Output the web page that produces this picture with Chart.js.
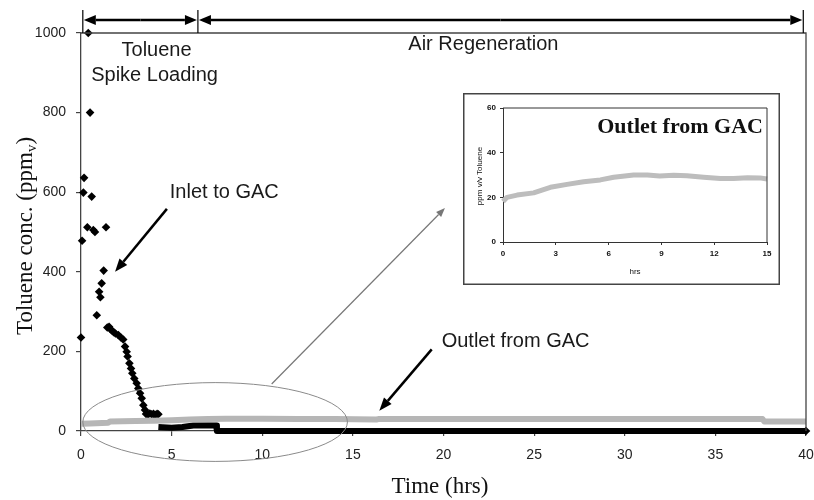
<!DOCTYPE html>
<html>
<head>
<meta charset="utf-8">
<script src="https://cdn.jsdelivr.net/npm/chart.js@4.4.1/dist/chart.umd.min.js"></script>
<style>
  html, body { margin: 0; padding: 0; background: #fff; }
  #wrap { position: relative; width: 814px; height: 500px; }
  #main { position: absolute; left: 0; top: 0; }
  #inset { position: absolute; left: 463px; top: 93px; }
</style>
</head>
<body>
<div id="wrap">
  <canvas id="main" width="814" height="500"></canvas>
  <canvas id="inset" width="317" height="192"></canvas>
</div>
<script>
// ---- Main chart data: toluene concentration (ppmv) vs time (hrs) ----
const timeTicks = [0, 5, 10, 15, 20, 25, 30, 35, 40];
const concTicks = [0, 200, 400, 600, 800, 1000];

// Inlet to GAC: individual samples during spike loading
const inletTime = [0, 0.06, 0.13, 0.17, 0.35, 0.4, 0.5, 0.59, 0.68, 0.77, 0.87, 1.0, 1.07, 1.14, 1.25, 1.38,
  1.45, 1.55, 1.62, 1.72, 1.8, 1.9, 2.06, 2.2, 2.33, 2.43, 2.52, 2.57, 2.67, 2.76, 2.83, 2.94, 3.07,
  3.16, 3.26, 3.35, 3.44, 3.53, 3.59, 3.7, 3.8, 3.9, 4.0, 4.1, 4.2, 4.27, 40];
const inletConc = [235, 478, 599, 636, 512, 1000, 800, 589, 505, 500, 291, 350, 336, 371, 403, 512,
  260, 262, 256, 252, 248, 245, 241, 235, 230, 212, 199, 187, 170, 157, 145, 132, 120,
  107, 95, 82, 65, 53, 43, 42, 44, 42, 43, 41, 43, 42, 0];

// Inlet to GAC: dense low readings after loading ends
const inletLowTime = [4.27, 5.0, 5.6, 6.2, 7.45, 7.5, 40];
const inletLowConc = [10, 8, 10, 14, 14, 0, 0];

// Outlet from GAC over the whole run
const outletTime = [0, 0.5, 1.5, 1.6, 3, 4, 5, 6, 7, 8, 10, 12, 14, 16.3, 16.4, 20, 25, 30, 35, 37.6, 37.7, 40];
const outletConc = [18, 19, 21, 24, 25, 26, 27, 29, 30, 31, 31, 30, 30, 29, 30, 30, 30, 30, 30, 30, 24, 24];

// ---- Inset data: outlet from GAC, first 15 hrs ----
const insetTimeTicks = [0, 3, 6, 9, 12, 15];
const insetConcTicks = [0, 20, 40, 60];
const insetTime = [0, 0.23, 0.8, 1.74, 2.69, 3.64, 4.58, 5.53, 6.29, 7.42, 8.2, 8.9, 9.7, 10.45, 11.4, 12.35, 13.1, 13.9, 14.6, 15];
const insetConc = [18.1, 20, 21, 22, 24.5, 25.8, 27, 27.8, 29, 30, 30, 29.6, 29.9, 29.7, 29, 28.4, 28.4, 28.8, 28.7, 28.2];

const pts = (xs, ys) => xs.map((x, i) => ({ x: x, y: ys[i] }));
const plain = v => String(v);

Chart.defaults.font.family = '"Liberation Sans", Arial, sans-serif';
Chart.defaults.color = '#222';

function arrow(ctx, x1, y1, x2, y2, len, wid, color, lw) {
  const a = Math.atan2(y2 - y1, x2 - x1);
  const bx = x2 - len * Math.cos(a), by = y2 - len * Math.sin(a);
  ctx.save();
  ctx.strokeStyle = color; ctx.fillStyle = color; ctx.lineWidth = lw;
  ctx.beginPath(); ctx.moveTo(x1, y1); ctx.lineTo(bx, by); ctx.stroke();
  ctx.beginPath();
  ctx.moveTo(x2, y2);
  ctx.lineTo(bx + wid / 2 * Math.sin(a), by - wid / 2 * Math.cos(a));
  ctx.lineTo(bx - wid / 2 * Math.sin(a), by + wid / 2 * Math.cos(a));
  ctx.closePath(); ctx.fill();
  ctx.restore();
}

// Frame, phase markers, call-outs and axis titles for the main plot
const mainDecor = {
  id: 'mainDecor',
  afterDraw(chart) {
    const ctx = chart.ctx, a = chart.chartArea;
    const xs = chart.scales.x, ys = chart.scales.y;
    const X = v => xs.getPixelForValue(v), Y = v => ys.getPixelForValue(v);

    ctx.save();
    // top and right sides of the plot frame
    ctx.strokeStyle = '#444'; ctx.lineWidth = 1.3;
    ctx.beginPath();
    ctx.moveTo(a.left, a.top); ctx.lineTo(a.right, a.top); ctx.lineTo(a.right, a.bottom);
    ctx.stroke();

    // phase span markers above the plot
    const phases = [0.1, 6.45, 39.85];
    const yArr = a.top - 13;
    ctx.strokeStyle = '#000'; ctx.lineWidth = 1.2;
    phases.forEach(p => {
      ctx.beginPath(); ctx.moveTo(X(p), a.top - 23); ctx.lineTo(X(p), a.top); ctx.stroke();
    });
    for (let i = 0; i < phases.length - 1; i++) {
      const x1 = X(phases[i]) + 1, x2 = X(phases[i + 1]) - 1, mid = (x1 + x2) / 2;
      arrow(ctx, mid, yArr, x1, yArr, 12, 10, '#000', 2.5);
      arrow(ctx, mid, yArr, x2, yArr, 12, 10, '#000', 2.5);
    }

    // phase labels and call-out text
    ctx.fillStyle = '#1a1a1a';
    ctx.font = '20px "Liberation Sans", Arial, sans-serif';
    ctx.textBaseline = 'alphabetic';
    ctx.textAlign = 'center';
    ctx.fillText('Toluene', X(4.17), Y(942));
    ctx.fillText('Spike Loading', X(4.06), Y(879));
    ctx.fillText('Air Regeneration', X(22.2), Y(957));
    ctx.textAlign = 'left';
    ctx.fillText('Inlet to GAC', X(4.9), Y(585));
    ctx.fillText('Outlet from GAC', X(19.9), Y(212));

    // pointer arrows
    arrow(ctx, X(4.74), Y(558), X(1.88), Y(400), 13, 10, '#000', 2.5);
    arrow(ctx, X(19.35), Y(205), X(16.46), Y(51), 13, 10, '#000', 2.5);

    // ellipse around the early low-concentration region
    const cx = X(7.4), cy = Y(22.6);
    const rx = X(7.4 + 7.3) - cx, ry = cy - Y(22.6 + 99);
    ctx.strokeStyle = '#8a8a8a'; ctx.lineWidth = 1;
    ctx.beginPath(); ctx.ellipse(cx, cy, rx, ry, 0, 0, Math.PI * 2); ctx.stroke();

    // connector toward the inset
    arrow(ctx, X(10.52), Y(118), X(20.08), Y(560), 9, 7, '#777', 1.2);

    // axis titles
    ctx.fillStyle = '#111';
    ctx.font = '23px "Liberation Serif", "Times New Roman", serif';
    ctx.textAlign = 'center';
    ctx.textBaseline = 'middle';
    ctx.fillText('Time (hrs)', 440, 487);

    ctx.save();
    ctx.translate(24, 236);
    ctx.rotate(-Math.PI / 2);
    const big = '23px "Liberation Serif", "Times New Roman", serif';
    const small = '15px "Liberation Serif", "Times New Roman", serif';
    const p1 = 'Toluene conc. (ppm', p2 = 'v', p3 = ')';
    ctx.font = big; const w1 = ctx.measureText(p1).width, w3 = ctx.measureText(p3).width;
    ctx.font = small; const w2 = ctx.measureText(p2).width;
    let sx = -(w1 + w2 + w3) / 2;
    ctx.textAlign = 'left';
    ctx.textBaseline = 'alphabetic';
    ctx.font = big; ctx.fillText(p1, sx, 8); sx += w1;
    ctx.font = small; ctx.fillText(p2, sx, 12); sx += w2;
    ctx.font = big; ctx.fillText(p3, sx, 8);
    ctx.restore();

    ctx.restore();
  }
};

new Chart(document.getElementById('main'), {
  type: 'scatter',
  data: {
    datasets: [
      {
        label: 'Outlet from GAC',
        data: pts(outletTime, outletConc),
        showLine: true, borderColor: '#b6b6b6', borderWidth: 6,
        pointRadius: 0, clip: false, borderJoinStyle: 'round', borderCapStyle: 'butt'
      },
      {
        label: 'Inlet to GAC (low)',
        data: pts(inletLowTime, inletLowConc),
        showLine: true, borderColor: '#000', borderWidth: 6,
        pointRadius: 0, clip: false, borderJoinStyle: 'round'
      },
      {
        label: 'Inlet to GAC',
        data: pts(inletTime, inletConc),
        showLine: false, pointStyle: 'rectRot', pointRadius: 4.3,
        backgroundColor: '#000', borderColor: '#000', borderWidth: 0, clip: false
      }
    ]
  },
  options: {
    responsive: false, animation: false, devicePixelRatio: 1,
    layout: { padding: { top: 33, right: 8, left: 0, bottom: 0 } },
    plugins: { legend: { display: false }, tooltip: { enabled: false } },
    scales: {
      x: {
        type: 'linear', min: 0, max: 40,
        afterBuildTicks: s => { s.ticks = timeTicks.map(v => ({ value: v })); },
        afterFit: s => { s.height = 69; s.paddingLeft = 0; s.paddingRight = 0; },
        ticks: { font: { size: 14 }, color: '#222', padding: 11, maxRotation: 0, callback: plain },
        grid: { drawOnChartArea: false, drawTicks: true, tickLength: 5, color: '#444', lineWidth: 1.2 },
        border: { display: true, color: '#444', width: 1.3 }
      },
      y: {
        type: 'linear', min: 0, max: 1000,
        afterBuildTicks: s => { s.ticks = concTicks.map(v => ({ value: v })); },
        afterFit: s => { s.width = 81; s.paddingTop = 0; s.paddingBottom = 0; },
        ticks: { font: { size: 14 }, color: '#222', padding: 10, callback: plain },
        grid: { drawOnChartArea: false, drawTicks: true, tickLength: 5, color: '#444', lineWidth: 1.2 },
        border: { display: true, color: '#444', width: 1.3 }
      }
    }
  },
  plugins: [mainDecor]
});

// Box, frame, title and axis titles for the inset
const insetDecor = {
  id: 'insetDecor',
  beforeDraw(chart) {
    const ctx = chart.ctx;
    ctx.save(); ctx.fillStyle = '#fff'; ctx.fillRect(0, 0, chart.width, chart.height); ctx.restore();
  },
  afterDraw(chart) {
    const ctx = chart.ctx, a = chart.chartArea;
    ctx.save();
    ctx.strokeStyle = '#333'; ctx.lineWidth = 1;
    ctx.beginPath();
    ctx.moveTo(a.left, a.top); ctx.lineTo(a.right, a.top); ctx.lineTo(a.right, a.bottom);
    ctx.stroke();
    ctx.strokeStyle = '#444'; ctx.lineWidth = 1.5;
    ctx.strokeRect(0.75, 0.75, chart.width - 1.5, chart.height - 1.5);

    ctx.fillStyle = '#111';
    ctx.font = 'bold 22px "Liberation Serif", "Times New Roman", serif';
    ctx.textAlign = 'right'; ctx.textBaseline = 'alphabetic';
    ctx.fillText('Outlet from GAC', 300, 40);

    ctx.font = '8px "Liberation Sans", Arial, sans-serif';
    ctx.textAlign = 'center'; ctx.textBaseline = 'middle';
    ctx.fillText('hrs', 172, 179);
    ctx.save();
    ctx.translate(17, 83); ctx.rotate(-Math.PI / 2);
    ctx.fillText('ppm v/v Toluene', 0, 0);
    ctx.restore();
    ctx.restore();
  }
};

new Chart(document.getElementById('inset'), {
  type: 'scatter',
  data: {
    datasets: [{
      label: 'Outlet from GAC',
      data: pts(insetTime, insetConc),
      showLine: true, borderColor: '#bdbdbd', borderWidth: 5,
      pointRadius: 0, clip: false, borderJoinStyle: 'round'
    }]
  },
  options: {
    responsive: false, animation: false, devicePixelRatio: 1,
    layout: { padding: { top: 15, right: 13, left: 0, bottom: 0 } },
    plugins: { legend: { display: false }, tooltip: { enabled: false } },
    scales: {
      x: {
        type: 'linear', min: 0, max: 15,
        afterBuildTicks: s => { s.ticks = insetTimeTicks.map(v => ({ value: v })); },
        afterFit: s => { s.height = 43; s.paddingLeft = 0; s.paddingRight = 0; },
        ticks: { font: { size: 8, weight: 'bold' }, color: '#111', padding: 4, maxRotation: 0, callback: plain },
        grid: { drawOnChartArea: false, drawTicks: true, tickLength: 3, color: '#333' },
        border: { display: true, color: '#333', width: 1 }
      },
      y: {
        type: 'linear', min: 0, max: 60,
        afterBuildTicks: s => { s.ticks = insetConcTicks.map(v => ({ value: v })); },
        afterFit: s => { s.width = 40; s.paddingTop = 0; s.paddingBottom = 0; },
        ticks: { font: { size: 8, weight: 'bold' }, color: '#111', padding: 4, callback: plain },
        grid: { drawOnChartArea: false, drawTicks: true, tickLength: 3, color: '#333' },
        border: { display: true, color: '#333', width: 1 }
      }
    }
  },
  plugins: [insetDecor]
});
</script>
</body>
</html>
